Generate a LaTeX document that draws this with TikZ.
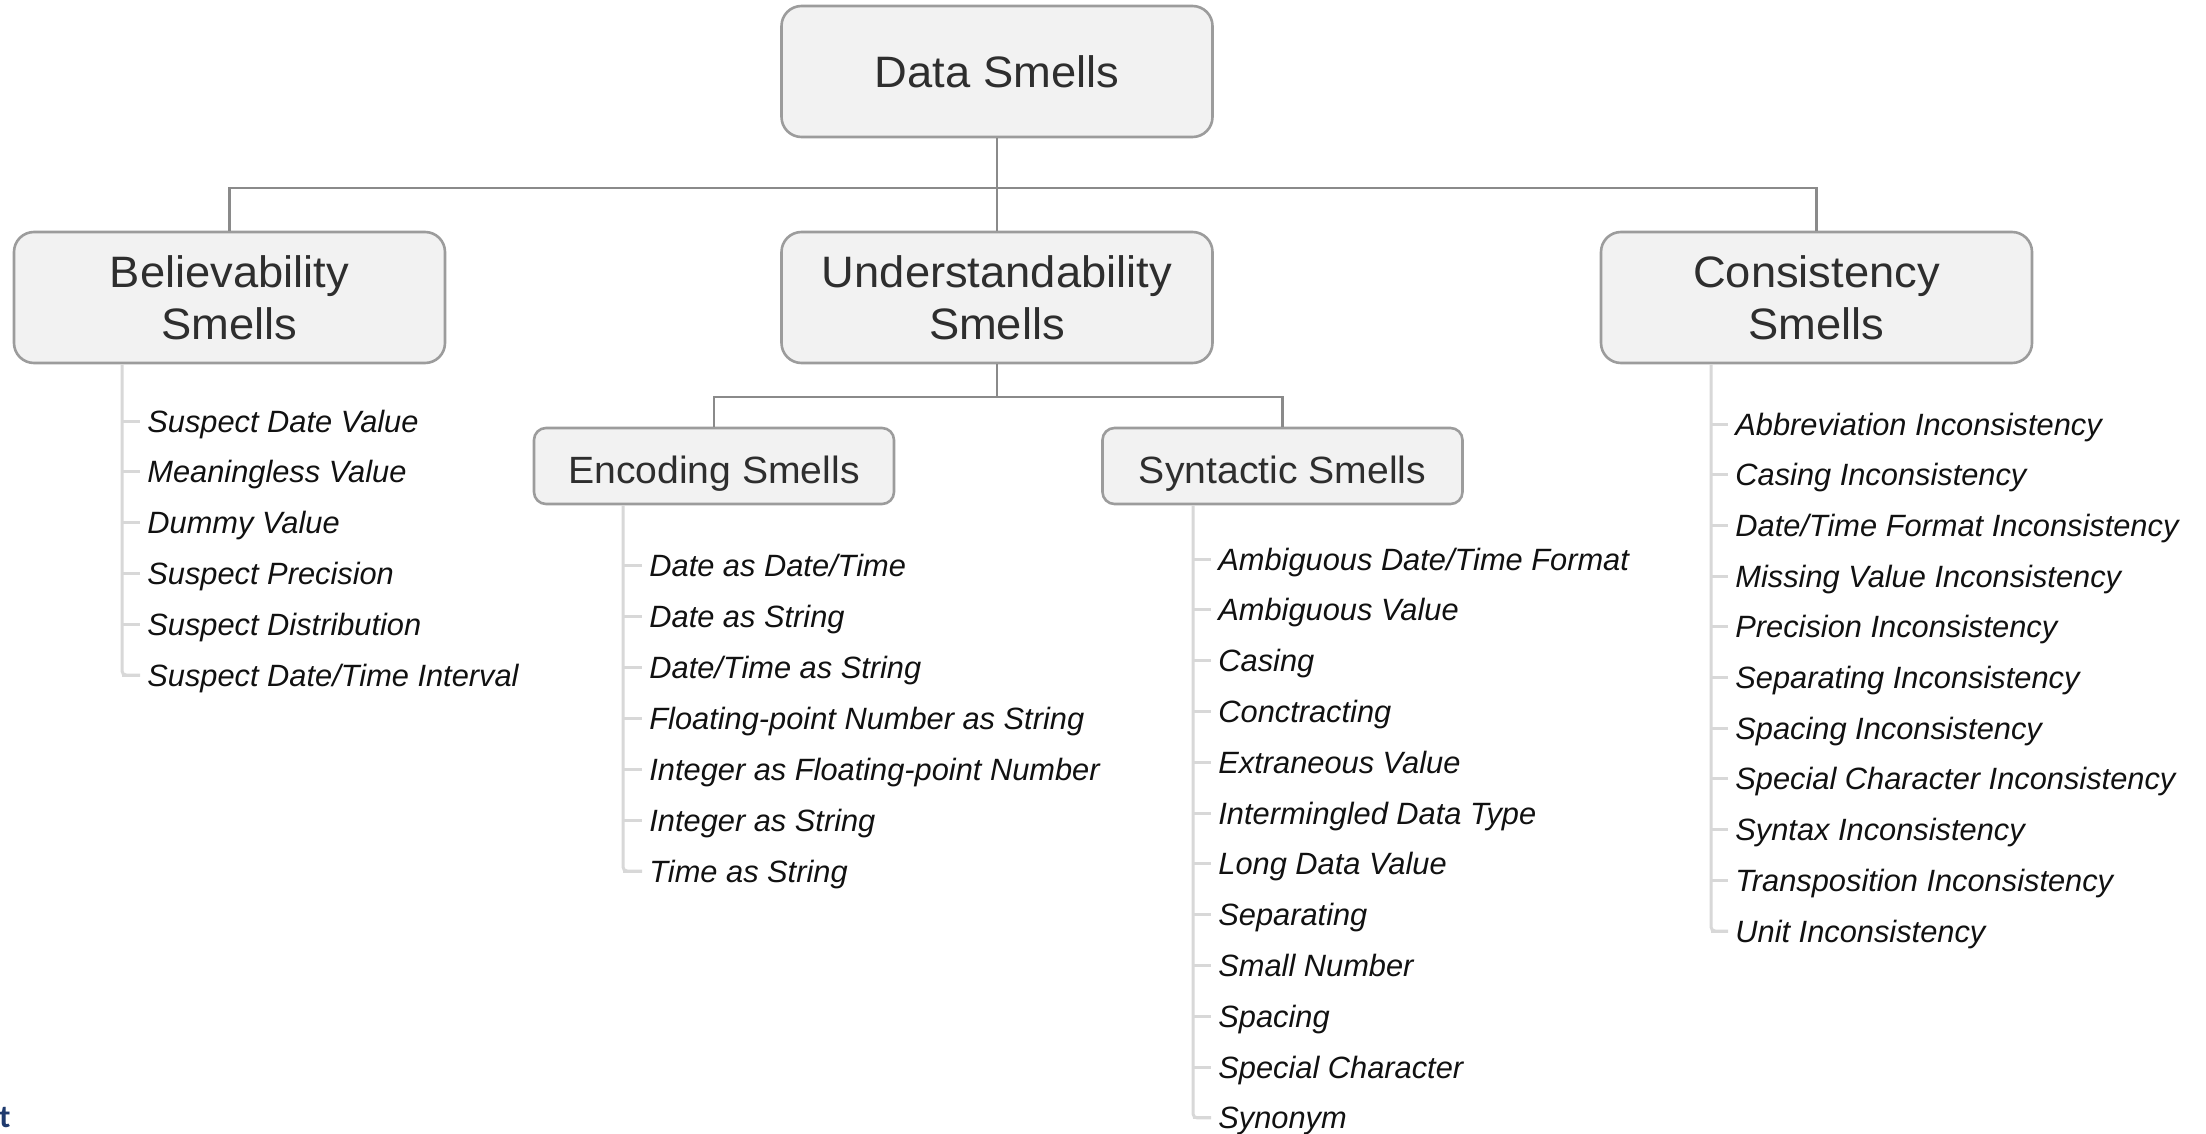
\documentclass[tikz,border=0pt]{standalone}
\usepackage{fontspec}
\setmainfont{Liberation Sans}
\newfontfamily\titlefont{Liberation Sans}[FakeStretch=1.03]
\newfontfamily\markfont{Carlito}
\definecolor{boxfill}{HTML}{F2F2F2}
\definecolor{boxline}{HTML}{9C9C9C}
\definecolor{connline}{HTML}{8A8A8A}
\definecolor{leafline}{HTML}{D8D8D8}
\definecolor{titletext}{HTML}{2E2E2E}
\definecolor{itemtext}{HTML}{111111}
\definecolor{markblue}{HTML}{1F3A6E}
\begin{document}
\begin{tikzpicture}[x=0.5pt,y=-0.5pt,
  box/.style={draw=boxline, line width=1.3pt, fill=boxfill, rounded corners=10pt,
    align=center, inner sep=0pt, text=titletext},
  bigbox/.style={box, minimum width=215.5pt, minimum height=65.5pt,
    font=\titlefont\fontsize{22}{26}\selectfont},
  smallbox/.style={box, rounded corners=6pt, minimum width=180pt, minimum height=38pt,
    text height=17pt, text depth=0pt, font=\titlefont\fontsize{19}{20}\selectfont},
  conn/.style={draw=connline, line width=1.3pt},
  leaf/.style={draw=leafline, line width=1.5pt, rounded corners=2pt},
  item/.style={anchor=west, inner xsep=3.5pt, inner ysep=0pt, text height=11pt,
    text depth=0pt, font=\fontsize{15.4}{18}\selectfont\itshape, text=itemtext}
]
\fill[white] (0,0) rectangle (2206,1134);
\useasboundingbox (0,0) rectangle (2206,1134);

% category boxes
\node[bigbox] (data)   at (997,71.5)   {Data Smells};
\node[bigbox] (believ) at (229.5,297.5) {Believability\\Smells};
\node[bigbox] (under)  at (997,297.5)   {Understandability\\Smells};
\node[bigbox] (consis) at (1816.5,297.5) {Consistency\\Smells};
\node[smallbox] (enc)  at (714,466)    {Encoding Smells};
\node[smallbox] (syn)  at (1282.5,466) {Syntactic Smells};

% tree connectors
\coordinate (hub) at (997,188);
\coordinate (hubb) at (997,397);
\draw[conn] (data.south) -- (under.north);
\draw[conn] (believ.north) -- (believ.north |- hub) -- (consis.north |- hub) -- (consis.north);
\draw[conn] (under.south) -- (hubb);
\draw[conn] (enc.north) -- (enc.north |- hubb) -- (syn.north |- hubb) -- (syn.north);

% leaf lists
\coordinate (belx) at (122,0);
\coordinate (encx) at (623,0);
\coordinate (synx) at (1193,0);
\coordinate (conx) at (1711,0);

\foreach \txt [count=\i] in {Suspect Date Value, Meaningless Value, Dummy Value,
    Suspect Precision, Suspect Distribution, Suspect Date/Time Interval}{
  \node[item] (bel\i) at (140,{421+50.8*(\i-1)}) {\txt};
  \draw[leaf] (bel\i.west -| belx) -- (bel\i.west);
}
\draw[leaf] (belx |- believ.south) -- (belx |- bel6.west) -- (bel6.west);

\foreach \txt [count=\i] in {Date as Date/Time, Date as String, Date/Time as String,
    Floating-point Number as String, Integer as Floating-point Number,
    Integer as String, Time as String}{
  \node[item] (enc\i) at (642,{565+51*(\i-1)}) {\txt};
  \draw[leaf] (enc\i.west -| encx) -- (enc\i.west);
}
\draw[leaf] (encx |- enc.south) -- (encx |- enc7.west) -- (enc7.west);

\foreach \txt [count=\i] in {Ambiguous Date/Time Format, Ambiguous Value, Casing,
    Conctracting, Extraneous Value, Intermingled Data Type, Long Data Value,
    Separating, Small Number, Spacing, Special Character, Synonym}{
  \node[item] (syn\i) at (1211,{559+50.8*(\i-1)}) {\txt};
  \draw[leaf] (syn\i.west -| synx) -- (syn\i.west);
}
\draw[leaf] (synx |- syn.south) -- (synx |- syn12.west) -- (syn12.west);

\foreach \txt [count=\i] in {Abbreviation Inconsistency, Casing Inconsistency,
    Date/Time Format Inconsistency, Missing Value Inconsistency,
    Precision Inconsistency, Separating Inconsistency, Spacing Inconsistency,
    Special Character Inconsistency, Syntax Inconsistency,
    Transposition Inconsistency, Unit Inconsistency}{
  \node[item] (con\i) at (1728,{424+50.7*(\i-1)}) {\txt};
  \draw[leaf] (con\i.west -| conx) -- (con\i.west);
}
\draw[leaf] (conx |- consis.south) -- (conx |- con11.west) -- (con11.west);

% fragment of a caption at the lower left edge
\node[anchor=base west, inner sep=0pt, text=markblue,
  font=\markfont\bfseries\fontsize{16}{18}\selectfont] (mark) at (-1,1127) {t};
\end{tikzpicture}
\end{document}
